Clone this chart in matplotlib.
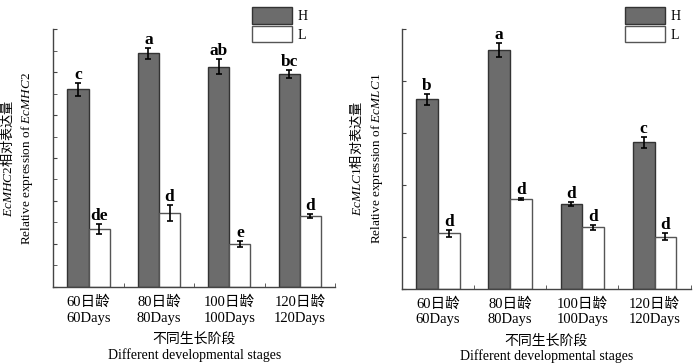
import matplotlib
matplotlib.use("Agg")
import matplotlib.pyplot as plt
import numpy as np
from matplotlib.ticker import MultipleLocator, NullFormatter

plt.rcParams['font.family'] = ['Liberation Serif', 'Noto Sans CJK SC', 'DejaVu Sans']
plt.rcParams['mathtext.fontset'] = 'custom'
plt.rcParams['mathtext.it'] = 'Liberation Serif:italic'
plt.rcParams['mathtext.rm'] = 'Liberation Serif'
plt.rcParams['mathtext.sf'] = 'Noto Sans CJK SC'

categories = ['60日龄\n60Days', '80日龄\n80Days', '100日龄\n100Days', '120日龄\n120Days']
series = ['H', 'L']

# Left panel: EcMHC2
mhc_H = [4.60, 5.44, 5.13, 4.96]
mhc_H_err = [0.15, 0.13, 0.17, 0.10]
mhc_L = [1.34, 1.72, 1.00, 1.65]
mhc_L_err = [0.12, 0.18, 0.07, 0.05]
mhc_H_sig = ['c', 'a', 'ab', 'bc']
mhc_L_sig = ['de', 'd', 'e', 'd']

# Right panel: EcMLC1
mlc_H = [3.64, 4.59, 1.63, 2.81]
mlc_H_err = [0.11, 0.14, 0.04, 0.11]
mlc_L = [1.06, 1.73, 1.18, 1.00]
mlc_L_err = [0.07, 0.02, 0.05, 0.07]
mlc_H_sig = ['b', 'a', 'd', 'c']
mlc_L_sig = ['d', 'd', 'd', 'd']

W, H = 700, 364
fig = plt.figure(figsize=(7, 3.64), dpi=100)

def px_axes(x0, x1, ytop, ybot):
    return fig.add_axes([x0 / W, 1 - ybot / H, (x1 - x0) / W, (ybot - ytop) / H])

H_COLOR = '#6c6c6c'
EDGE = '#333333'
SPINE = '#444444'

def panel(ax, hv, he, lv, le, hs, ls, ymax, minor, gene, legx, labx):
    x = np.arange(len(categories))
    w = 0.3
    bh = ax.bar(x - w / 2, hv, w, color=H_COLOR, edgecolor=EDGE, linewidth=1.0, label='H', zorder=2)
    bl = ax.bar(x + w / 2, lv, w, color='white', edgecolor='#555555', linewidth=1.0, label='L', zorder=2)
    ax.errorbar(x - w / 2, hv, yerr=he, fmt='none', ecolor='black', elinewidth=1.2, capsize=2.5, capthick=1.2, zorder=3)
    ax.errorbar(x + w / 2, lv, yerr=le, fmt='none', ecolor='black', elinewidth=1.2, capsize=2.5, capthick=1.2, zorder=3)
    for xi, v, e, s in zip(x - w / 2, hv, he, hs):
        ax.annotate(s, (xi, v + e), xytext=(0, 0), textcoords='offset points', ha='center', va='bottom',
                    fontsize=12.5, fontweight='bold')
    for xi, v, e, s in zip(x + w / 2, lv, le, ls):
        ax.annotate(s, (xi, v + e), xytext=(0, 0), textcoords='offset points', ha='center', va='bottom',
                    fontsize=12.5, fontweight='bold')
    ax.set_xlim(-0.5, 3.5)
    ax.set_ylim(0, ymax)
    ax.set_xticks(x)
    ax.set_xticklabels(categories, fontsize=10.5, linespacing=1.3)
    ax.set_xticks([0.5, 1.5, 2.5, 3.5], minor=True)
    ax.tick_params(axis='x', which='major', length=0, pad=6)
    ax.tick_params(axis='x', which='minor', direction='in', length=3, color=SPINE)
    ax.yaxis.set_major_locator(MultipleLocator(1))
    if minor:
        ax.yaxis.set_minor_locator(MultipleLocator(0.5))
    ax.yaxis.set_major_formatter(NullFormatter())
    ax.tick_params(axis='y', which='both', direction='in', length=3, color=SPINE)
    for s in ['top', 'right']:
        ax.spines[s].set_visible(False)
    for s in ['left', 'bottom']:
        ax.spines[s].set_color(SPINE)
        ax.spines[s].set_linewidth(1.0)
    ax.set_xlabel('不同生长阶段\nDifferent developmental stages', fontsize=10, linespacing=1.15, labelpad=6)
    pos = ax.get_position()
    fig.text(labx / W, pos.y0 + pos.height / 2,
             r'$\mathit{' + gene + r'}\mathsf{相对表达量}$' + '\n' + r'Relative expression of $\mathit{' + gene + r'}$',
             rotation=90, ha='center', va='center', fontsize=9.5, linespacing=1.4)
    fig.legend(handles=[bh, bl], labels=series, loc='upper left',
               bbox_to_anchor=(legx / W, 1 - 7.3 / H), frameon=False, borderpad=0, borderaxespad=0,
               handlelength=2.85, handleheight=1.42, labelspacing=0.18, handletextpad=0.45, fontsize=10)

ax1 = px_axes(53.3, 335, 29.3, 286.7)
panel(ax1, mhc_H, mhc_H_err, mhc_L, mhc_L_err, mhc_H_sig, mhc_L_sig, 6, True, 'EcMHC2', 252, 17.5)

ax2 = px_axes(401.7, 690.7, 28.5, 288.5)
panel(ax2, mlc_H, mlc_H_err, mlc_L, mlc_L_err, mlc_H_sig, mlc_L_sig, 5, False, 'EcMLC1', 625, 367)

fig.savefig('out.png', dpi=100)
